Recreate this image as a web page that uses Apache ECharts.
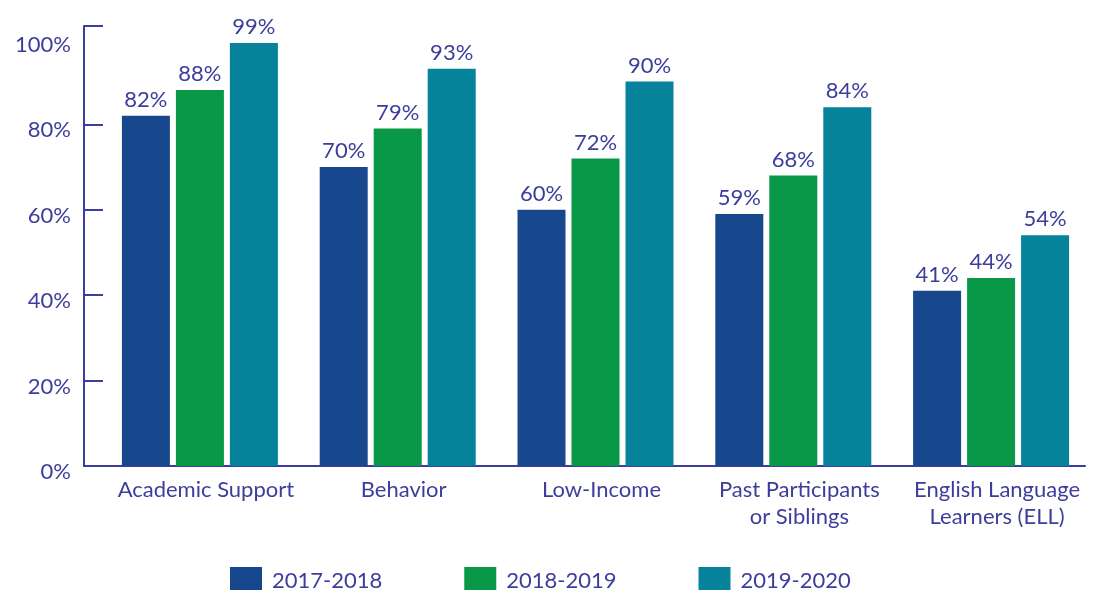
<!DOCTYPE html>
<html>
<head>
<meta charset="utf-8">
<script src="https://cdn.jsdelivr.net/npm/echarts@6/dist/echarts.min.js"></script>
<style>
html,body{margin:0;padding:0;background:#fff;}
#chart{width:1101px;height:590px;}
</style>
</head>
<body>
<div id="chart"></div>
<script>
const categories = ['Academic Support', 'Behavior', 'Low-Income', 'Past Participants\nor Siblings', 'English Language\nLearners (ELL)'];
const seriesNames = ['2017-2018', '2018-2019', '2019-2020'];
const values2017 = [82, 70, 60, 59, 41];
const values2018 = [88, 79, 72, 68, 44];
const values2019 = [99, 93, 90, 84, 54];
const yTickLabels = [0, 20, 40, 60, 80, 100];
const yMax = 103;

const textColor = '#3d3d9d';
const colors = ['#17488d', '#089848', '#07829b'];
const font = 'Lato, "Noto Sans", sans-serif';

const chart = echarts.init(document.getElementById('chart'));
const allValues = [values2017, values2018, values2019];

chart.setOption({
  animation: false,
  color: colors,
  textStyle: { fontFamily: font },
  legend: {
    left: 225, top: 562,
    itemWidth: 32, itemHeight: 28, itemGap: 82,
    icon: 'rect',
    textStyle: { color: textColor, fontSize: 22, fontFamily: font, padding: [2, 0, 0, 5] },
    data: seriesNames
  },
  grid: [
    { left: 84, right: 16, top: 26, bottom: 124 },
    { left: 101, right: 11, top: 26, bottom: 124 }
  ],
  xAxis: [
    {
      gridIndex: 0, type: 'category', data: categories,
      axisLine: { lineStyle: { color: textColor, width: 2 } },
      axisTick: { show: false }, axisLabel: { show: false }
    },
    {
      gridIndex: 1, type: 'category', data: categories,
      axisLine: { show: false }, axisTick: { show: false },
      axisLabel: { interval: 0, color: textColor, fontSize: 22, fontFamily: font, margin: 10, lineHeight: 27,
        padding: [0, 0, 0, 12] }
    }
  ],
  yAxis: [
    {
      gridIndex: 0, type: 'value', min: 0, max: yMax, interval: 20,
      splitLine: { show: false },
      axisLine: { show: true, lineStyle: { color: textColor, width: 2 } },
      axisTick: { show: true, inside: true, length: 19, lineStyle: { color: textColor, width: 2 },
        customValues: [0, 20, 40, 60, 80, yMax] },
      axisLabel: { color: textColor, fontSize: 22, fontFamily: font, margin: 13,
        customValues: yTickLabels,
        verticalAlign: 'top', lineHeight: 12,
        formatter: v => v + '%' }
    },
    {
      gridIndex: 1, type: 'value', min: 0, max: yMax, show: false, splitLine: { show: false }
    }
  ],
  series: seriesNames.map((name, i) => ({
    name: name, type: 'bar', xAxisIndex: 1, yAxisIndex: 1,
    data: allValues[i],
    barWidth: 48, barGap: '12.5%',
    itemStyle: { color: colors[i] },
    label: { show: true, position: 'top', distance: 5, color: textColor, fontSize: 22, fontFamily: font,
      formatter: p => p.value + '%' }
  }))
});
</script>
</body>
</html>
